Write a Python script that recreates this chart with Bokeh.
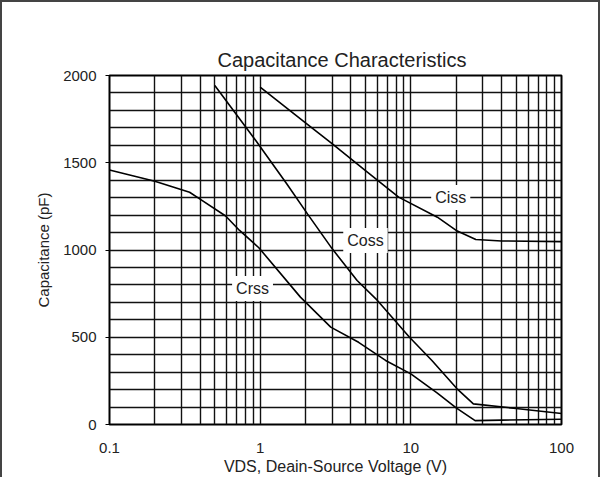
from bokeh.plotting import figure
from bokeh.models import FixedTicker, CustomJSTickFormatter, Label
from bokeh.embed import file_html
from bokeh.resources import INLINE

# ---- text ----
chart_title = "Capacitance Characteristics"
x_label = "VDS, Deain-Source Voltage (V)"
y_label = "Capacitance (pF)"

# ---- axes ----
x_ticks = [0.1, 1, 10, 100]
x_minor = [0.2, 0.3, 0.4, 0.5, 0.6, 0.7, 0.8, 0.9,
           2, 3, 4, 5, 6, 7, 8, 9,
           20, 30, 40, 50, 60, 70, 80, 90]
y_ticks = [0, 500, 1000, 1500, 2000]
y_minor = [100, 200, 300, 400, 600, 700, 800, 900, 1100, 1200, 1300, 1400,
           1600, 1700, 1800, 1900]

# ---- series (V, pF) ----
ciss_v = [1.0, 2.0, 3.0, 5.0, 8.3, 15, 20, 27, 40, 100]
ciss_c = [1933, 1729, 1609, 1455, 1303, 1188, 1112, 1060, 1052, 1048]

coss_v = [0.5, 0.94, 1.5, 2.06, 3.0, 4.4, 6.0, 9.8, 13.8, 20.2, 26, 50, 100]
coss_c = [1943, 1625, 1380, 1207, 1008, 825, 711, 500, 367, 206, 118, 92, 63]

crss_v = [0.1, 0.2, 0.34, 0.39, 0.59, 0.73, 0.98, 1.85, 2.94, 4.5, 6.8, 10, 15, 20, 26.7, 40, 100]
crss_c = [1459, 1394, 1331, 1297, 1195, 1112, 1013, 730, 558, 471, 367, 290, 180, 95, 22, 25, 30]

# ---- curve labels (name, V, pF) ----
label_names = ["Ciss", "Coss", "Crss"]
label_v = [18.4, 5.0, 0.89]
label_c = [1301, 1054, 779]

FONT = "Liberation Sans"

p = figure(x_axis_type="log", x_range=(0.1, 100), y_range=(0, 2000),
           frame_width=452, frame_height=349,
           min_border_left=107, min_border_right=37,
           min_border_top=73, min_border_bottom=47,
           output_backend="svg", toolbar_location=None,
           title=chart_title)

p.styles = {"border-left": "2px solid #444", "border-top": "2px solid #444",
            "border-right": "2px solid #444"}

p.title.align = "left"
p.title.offset = 108
p.title.text_font = FONT
p.title.text_font_size = "20px"
p.title.text_font_style = "normal"
p.title.text_color = "#222"

p.outline_line_color = "black"
p.outline_line_width = 2
p.background_fill_color = "white"
p.border_fill_color = "white"

# x axis
p.xaxis.ticker = FixedTicker(ticks=x_ticks, minor_ticks=x_minor)
p.xaxis.formatter = CustomJSTickFormatter(code="return tick < 1 ? tick.toFixed(1) : tick.toFixed(0);")
p.xaxis.axis_label = x_label
p.xaxis.major_tick_out = 0
p.xaxis.major_tick_in = 0
p.xaxis.minor_tick_out = 0
p.xaxis.minor_tick_in = 0
p.xaxis.major_label_standoff = 18

# y axis
p.yaxis.ticker = FixedTicker(ticks=y_ticks, minor_ticks=y_minor)
p.yaxis.axis_label = y_label
p.yaxis.major_tick_out = 4
p.yaxis.major_tick_in = 0
p.yaxis.minor_tick_out = 0
p.yaxis.minor_tick_in = 0
p.yaxis.major_label_standoff = 9

for ax in (p.xaxis, p.yaxis):
    ax.axis_line_color = None
    ax.major_tick_line_color = "black"
    ax.major_label_text_font = FONT
    ax.major_label_text_font_size = "15px"
    ax.major_label_text_color = "#222"
    ax.axis_label_text_font = FONT
    ax.axis_label_text_font_size = "15px"
    ax.axis_label_text_font_style = "normal"
    ax.axis_label_text_color = "#222"
p.xaxis.axis_label_text_font_size = "16px"
p.xaxis.axis_label_standoff = 2
p.yaxis.axis_label_standoff = 8

for g in (p.xgrid, p.ygrid):
    g.grid_line_color = "#111"
    g.grid_line_width = 1.4
    g.minor_grid_line_color = "#111"
    g.minor_grid_line_width = 1.4

p.line(ciss_v, ciss_c, line_color="black", line_width=1.6)
p.line(coss_v, coss_c, line_color="black", line_width=1.6)
p.line(crss_v, crss_c, line_color="black", line_width=1.6)

for name, v, c in zip(label_names, label_v, label_c):
    p.add_layout(Label(x=v, y=c, text=name, text_align="center", text_baseline="middle",
                       text_font=FONT, text_font_size="16px", text_color="#222",
                       background_fill_color="white", padding=4))

open("out.html", "w").write(file_html(p, INLINE))
